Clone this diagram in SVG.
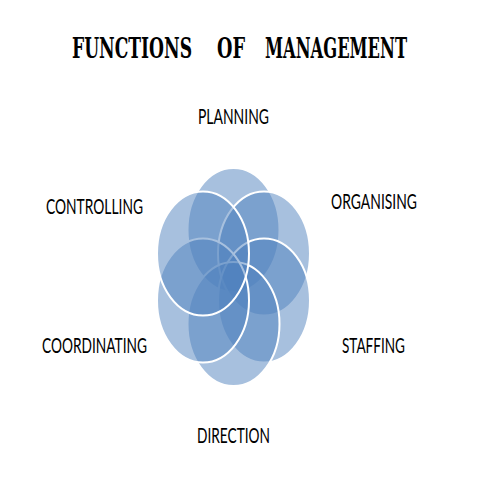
<svg xmlns="http://www.w3.org/2000/svg" width="480" height="480" viewBox="0 0 480 480">
  <style>
    .petal { fill: rgba(79,129,189,0.5); stroke: #ffffff; stroke-width: 2; }
    .label { font-family: Lato, "Open Sans", "Liberation Sans", sans-serif; font-size: 15px; fill: #000000; text-anchor: middle; }
    .title { font-family: "DejaVu Serif", "Liberation Serif", serif; font-weight: bold; font-size: 20px; fill: #000000; text-anchor: middle; }
  </style>
  <rect x="0" y="0" width="480" height="480" fill="#ffffff"/>
  <g id="title">
    <text class="title" transform="translate(132,58) scale(1,1.37)" x="0" y="0" textLength="120" lengthAdjust="spacingAndGlyphs">FUNCTIONS</text>
    <text class="title" transform="translate(231,58) scale(1,1.37)" x="0" y="0" textLength="28" lengthAdjust="spacingAndGlyphs">OF</text>
    <text class="title" transform="translate(336,58) scale(1,1.37)" x="0" y="0" textLength="142" lengthAdjust="spacingAndGlyphs">MANAGEMENT</text>
  </g>
  <g id="connectors"/>
  <g id="planning">
    <ellipse class="petal" cx="233.5" cy="230" rx="46" ry="62"/>
    <text class="label" transform="translate(233.5,124) scale(1,1.35)" x="0" y="0" textLength="71" lengthAdjust="spacingAndGlyphs">PLANNING</text>
  </g>
  <g id="organising">
    <ellipse class="petal" cx="264" cy="253.5" rx="46" ry="62"/>
    <text class="label" transform="translate(374,209) scale(1,1.35)" x="0" y="0" textLength="86" lengthAdjust="spacingAndGlyphs">ORGANISING</text>
  </g>
  <g id="staffing">
    <ellipse class="petal" cx="264" cy="300.5" rx="46" ry="62"/>
    <text class="label" transform="translate(373.5,353) scale(1,1.35)" x="0" y="0" textLength="63" lengthAdjust="spacingAndGlyphs">STAFFING</text>
  </g>
  <g id="direction">
    <ellipse class="petal" cx="233.5" cy="324" rx="46" ry="62"/>
    <text class="label" transform="translate(233.5,443) scale(1,1.35)" x="0" y="0" textLength="73" lengthAdjust="spacingAndGlyphs">DIRECTION</text>
  </g>
  <g id="coordinating">
    <ellipse class="petal" cx="203" cy="300.5" rx="46" ry="62"/>
    <text class="label" transform="translate(94.5,353) scale(1,1.35)" x="0" y="0" textLength="105" lengthAdjust="spacingAndGlyphs">COORDINATING</text>
  </g>
  <g id="controlling">
    <ellipse class="petal" cx="203" cy="253.5" rx="46" ry="62"/>
    <text class="label" transform="translate(94.5,214) scale(1,1.35)" x="0" y="0" textLength="97" lengthAdjust="spacingAndGlyphs">CONTROLLING</text>
  </g>
</svg>
